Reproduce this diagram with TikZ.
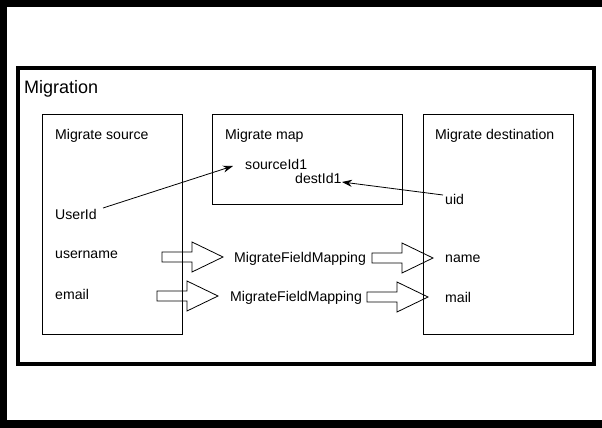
\documentclass[tikz,border=0pt]{standalone}
\usepackage{fontspec}
\setmainfont{Liberation Sans}
\usetikzlibrary{arrows.meta}
\begin{document}
\begin{tikzpicture}[x=1pt,y=-1pt,
  lbl/.style={anchor=base west, inner sep=0pt, font=\fontsize{14.1}{16}\selectfont},
  box/.style={draw, line width=0.9pt, anchor=north west, inner sep=0pt},
  conn/.style={line width=0.8pt, -{Stealth[length=10pt,width=7pt]}},
  barrow/.pic={\draw[line width=0.8pt] (0,-5) -- (30,-5) -- (30,-15) -- (61,0) -- (30,15) -- (30,5) -- (0,5) -- cycle;}]
\fill[black] (0,0) rectangle (602,428);
\fill[white] (7,7) rectangle (602,420);
\useasboundingbox (0,0) rectangle (602,428);
% outer frame
\node[draw, line width=4pt, anchor=north west, inner sep=0pt, minimum width=576pt, minimum height=296pt] (migbox) at (16,66) {};
\node[lbl, font=\fontsize{18}{21}\selectfont] (migration) at (24,93) {Migration};
% inner boxes
\node[box, minimum width=140pt, minimum height=220pt] (src) at (42,114) {};
\node[box, minimum width=190pt, minimum height=90pt] (map) at (212,114) {};
\node[box, minimum width=150pt, minimum height=220pt] (dst) at (423,114) {};
% texts
\node[lbl] (srct) at (55,139) {Migrate source};
\node[lbl] (userid) at (55,219) {UserId};
\node[lbl] (username) at (55,258) {username};
\node[lbl] (email) at (55,299) {email};
\node[lbl] (mapt) at (225,139) {Migrate map};
\node[lbl] (sid) at (245,169) {sourceId1};
\node[lbl] (did) at (295,183) {destId1};
\node[lbl] (dstt) at (435,139) {Migrate destination};
\node[lbl] (uid) at (445,204) {uid};
\node[lbl] (name) at (445,262) {name};
\node[lbl] (mail) at (445,302) {mail};
\node[lbl] (mfm1) at (234,262) {MigrateFieldMapping};
\node[lbl] (mfm2) at (230,301) {MigrateFieldMapping};
% block arrows
\pic at (162,257) {barrow};
\pic at (157,296) {barrow};
\pic at (372,258) {barrow};
\pic at (367,297) {barrow};
% connectors
\coordinate (c1s) at (103,208);
\coordinate (c1e) at (233,166);
\coordinate (c2s) at (443,195);
\coordinate (c2e) at (342,182);
\draw[conn] (c1s) -- (c1e);
\draw[conn] (c2s) -- (c2e);
\end{tikzpicture}
\end{document}
